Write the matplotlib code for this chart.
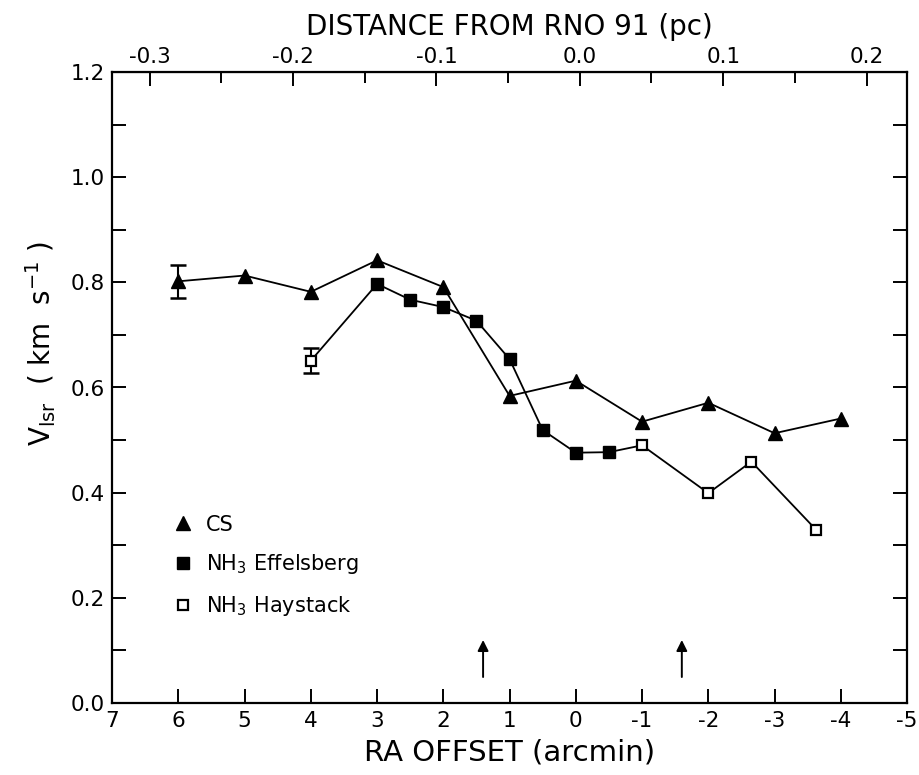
import matplotlib
matplotlib.use("Agg")
import matplotlib.pyplot as plt
from matplotlib.lines import Line2D
from matplotlib.ticker import MultipleLocator, FixedLocator, FormatStrFormatter

plt.rcParams['font.family'] = ['DejaVu Sans']
plt.rcParams['axes.unicode_minus'] = False
plt.rcParams['mathtext.default'] = 'regular'

# CS (filled triangles)
cs_ra = [6, 5, 4, 3, 2, 1, 0, -1, -2, -3, -4]
cs_v = [0.802, 0.813, 0.782, 0.842, 0.791, 0.584, 0.613, 0.535, 0.571, 0.513, 0.541]
cs_err_ra = [6]
cs_err_v = [0.802]
cs_err = [0.031]

# NH3 Effelsberg (filled squares)
eff_ra = [3, 2.5, 2, 1.5, 1, 0.5, 0, -0.5]
eff_v = [0.797, 0.767, 0.753, 0.727, 0.654, 0.519, 0.476, 0.477]

# NH3 Haystack (open squares)
hay_ra = [4, -1, -2, -2.65, -3.63]
hay_v = [0.651, 0.490, 0.399, 0.459, 0.329]
hay_err_ra = [4]
hay_err_v = [0.651]
hay_err = [0.024]

# the NH3 line joins both telescopes in RA order
nh3_ra = [4, 3, 2.5, 2, 1.5, 1, 0.5, 0, -0.5, -1, -2, -2.65, -3.63]
nh3_v = [0.651, 0.797, 0.767, 0.753, 0.727, 0.654, 0.519, 0.476, 0.477, 0.490, 0.399, 0.459, 0.329]

arrow_ra = [1.4, -1.6]
pc_ticks = [-0.3, -0.2, -0.1, 0.0, 0.1, 0.2]
pc_minor = [-0.25, -0.15, -0.05, 0.05, 0.15]
pc_per_arcmin = 0.0462  # about 160 pc distance
ra_zero = -0.06  # RNO 91 position in RA offset


def ra2pc(x):
    return -(x - ra_zero) * pc_per_arcmin


def pc2ra(d):
    return -d / pc_per_arcmin + ra_zero


fig = plt.figure(figsize=(9.19, 7.75), dpi=100)
ax = fig.add_axes([0.122, 0.093, 0.865, 0.814])

ax.plot(cs_ra, cs_v, color='black', lw=1.3, marker='^', ms=10, mfc='black', mec='black')
ax.errorbar(cs_err_ra, cs_err_v, yerr=cs_err, fmt='none', ecolor='black', elinewidth=1.5, capsize=6, capthick=1.8)

ax.plot(nh3_ra, nh3_v, color='black', lw=1.3)
ax.plot(eff_ra, eff_v, ls='none', marker='s', ms=8.5, mfc='black', mec='black')
ax.errorbar(hay_err_ra, hay_err_v, yerr=hay_err, fmt='none', ecolor='black', elinewidth=1.5, capsize=6, capthick=1.8)
ax.plot(hay_ra, hay_v, ls='none', marker='s', ms=7, mfc='white', mec='black', mew=1.6)

for a in arrow_ra:
    ax.annotate('', xy=(a, 0.125), xytext=(a, 0.044),
                arrowprops=dict(arrowstyle='-|>', color='black', lw=1.4, mutation_scale=16))

ax.set_xlim(7, -5)
ax.set_ylim(0, 1.2)
ax.xaxis.set_major_locator(MultipleLocator(1))
ax.yaxis.set_major_locator(MultipleLocator(0.2))
ax.yaxis.set_minor_locator(MultipleLocator(0.1))
ax.yaxis.set_major_formatter(FormatStrFormatter('%.1f'))
ax.tick_params(axis='both', which='both', direction='in', width=1.4, labelsize=15.5)
ax.tick_params(axis='x', which='major', length=10, bottom=True, top=False, pad=6)
ax.tick_params(axis='y', which='both', length=10, left=True, right=True, pad=5)
for s in ax.spines.values():
    s.set_linewidth(1.6)

ax.set_xlabel('RA OFFSET (arcmin)', fontsize=21, labelpad=5)
ax.set_ylabel(r'$V_{lsr}$  ( km  s$^{-1}$ )', fontsize=20)
ax.yaxis.set_label_coords(-0.068, 0.57)

sec = ax.secondary_xaxis('top', functions=(ra2pc, pc2ra))
sec.xaxis.set_major_locator(FixedLocator(pc_ticks))
sec.xaxis.set_minor_locator(FixedLocator(pc_minor))
sec.xaxis.set_major_formatter(FormatStrFormatter('%.1f'))
sec.tick_params(which='both', direction='in', width=1.4, labelsize=15.5)
sec.tick_params(which='major', length=10, pad=4)
sec.tick_params(which='minor', length=8)
sec.set_xlabel('DISTANCE FROM RNO 91 (pc)', fontsize=20, labelpad=8)

handles = [
    Line2D([], [], ls='none', marker='^', ms=10, mfc='black', mec='black'),
    Line2D([], [], ls='none', marker='s', ms=8.5, mfc='black', mec='black'),
    Line2D([], [], ls='none', marker='s', ms=7, mfc='white', mec='black', mew=1.6),
]
ax.legend(handles, ['CS', r'NH$_3$ Effelsberg', r'NH$_3$ Haystack'], loc='lower left',
          bbox_to_anchor=(0.053, 0.105), frameon=False, fontsize=15, handlelength=1.0,
          handletextpad=0.6, labelspacing=0.85)

fig.savefig('out.png', dpi=100)
